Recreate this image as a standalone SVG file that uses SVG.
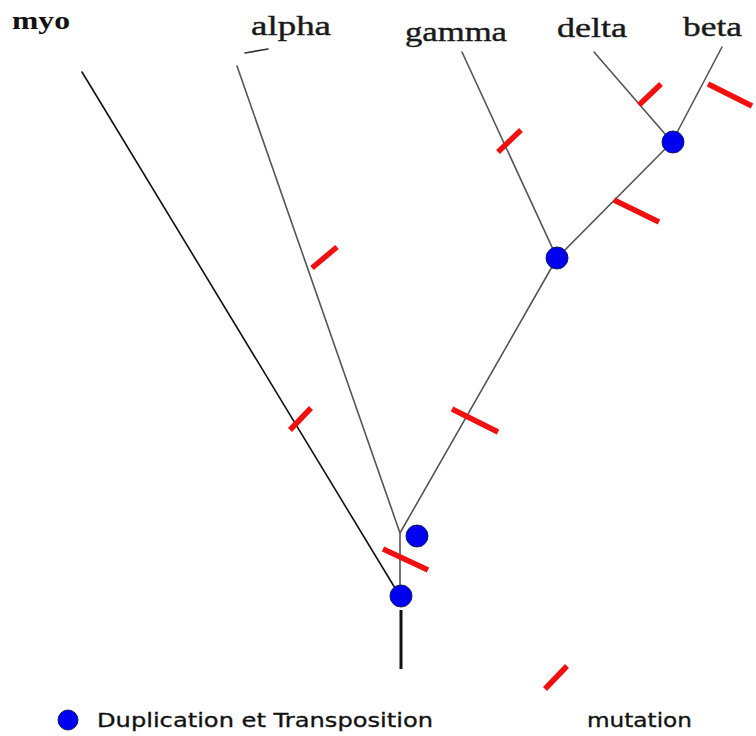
<svg xmlns="http://www.w3.org/2000/svg" width="756" height="736" viewBox="0 0 756 736">
<style>
.br{stroke:#555;stroke-width:1.6;fill:none;stroke-linecap:round}
.mut{stroke:#f01010;stroke-width:5.5;stroke-linecap:butt}
.dot{fill:#0000f0;stroke:#102060;stroke-width:1}
.lab{font-family:"Liberation Serif",serif;font-size:28px;fill:#1a1a1a;stroke:#1a1a1a;stroke-width:0.4}
.leg{font-family:"DejaVu Sans",sans-serif;font-size:19px;fill:#111;stroke:#111;stroke-width:0.3}
</style>
<rect width="756" height="736" fill="#fff"/>
<g id="connectors">
<line class="br" x1="82" y1="72" x2="395" y2="588" style="stroke:#111"/>
<line class="br" x1="237" y1="66" x2="400" y2="533"/>
<line class="br" x1="245" y1="53" x2="268" y2="49" style="stroke:#333"/>
<line class="br" x1="400" y1="533" x2="557" y2="258"/>
<line class="br" x1="400" y1="533" x2="400" y2="596"/>
<line class="br" x1="462" y1="52" x2="557" y2="258"/>
<line class="br" x1="557" y1="258" x2="672" y2="142"/>
<line class="br" x1="672" y1="142" x2="722" y2="47"/>
<line class="br" x1="594" y1="52" x2="665" y2="134"/>
<line x1="401" y1="610" x2="401" y2="669" stroke="#111" stroke-width="3"/>
</g>
<g id="mutations">
<line class="mut" x1="312" y1="268" x2="337" y2="247"/>
<line class="mut" x1="290" y1="430" x2="311" y2="408"/>
<line class="mut" x1="498" y1="152" x2="521" y2="130"/>
<line class="mut" x1="639" y1="105" x2="661" y2="84"/>
<line class="mut" x1="708" y1="84" x2="752" y2="106"/>
<line class="mut" x1="614" y1="200" x2="659" y2="222"/>
<line class="mut" x1="452" y1="409" x2="498" y2="432"/>
<line class="mut" x1="383" y1="549" x2="428" y2="570"/>
</g>
<g id="node-dup1"><circle class="dot" cx="401" cy="596" r="11"/></g>
<g id="node-dup2"><circle class="dot" cx="417" cy="536" r="11"/></g>
<g id="node-dup3"><circle class="dot" cx="557" cy="258" r="11"/></g>
<g id="node-dup4"><circle class="dot" cx="673" cy="142" r="11"/></g>
<g id="node-myo"><text x="12" y="29" font-family="Liberation Serif,serif" font-weight="bold" font-size="26" fill="#111" textLength="58" lengthAdjust="spacingAndGlyphs">myo</text></g>
<g id="node-alpha"><text class="lab" x="251" y="35" textLength="80" lengthAdjust="spacingAndGlyphs">alpha</text></g>
<g id="node-gamma"><text class="lab" x="405" y="41" textLength="102" lengthAdjust="spacingAndGlyphs">gamma</text></g>
<g id="node-delta"><text class="lab" x="557" y="37" textLength="70" lengthAdjust="spacingAndGlyphs">delta</text></g>
<g id="node-beta"><text class="lab" x="683" y="36" textLength="59" lengthAdjust="spacingAndGlyphs">beta</text></g>
<g id="legend">
<circle class="dot" cx="68" cy="720" r="10"/>
<text class="leg" x="97" y="727" textLength="336" lengthAdjust="spacingAndGlyphs">Duplication et Transposition</text>
<line class="mut" x1="545" y1="689" x2="567" y2="666"/>
<text class="leg" x="587" y="727" textLength="105" lengthAdjust="spacingAndGlyphs">mutation</text>
</g>
</svg>
